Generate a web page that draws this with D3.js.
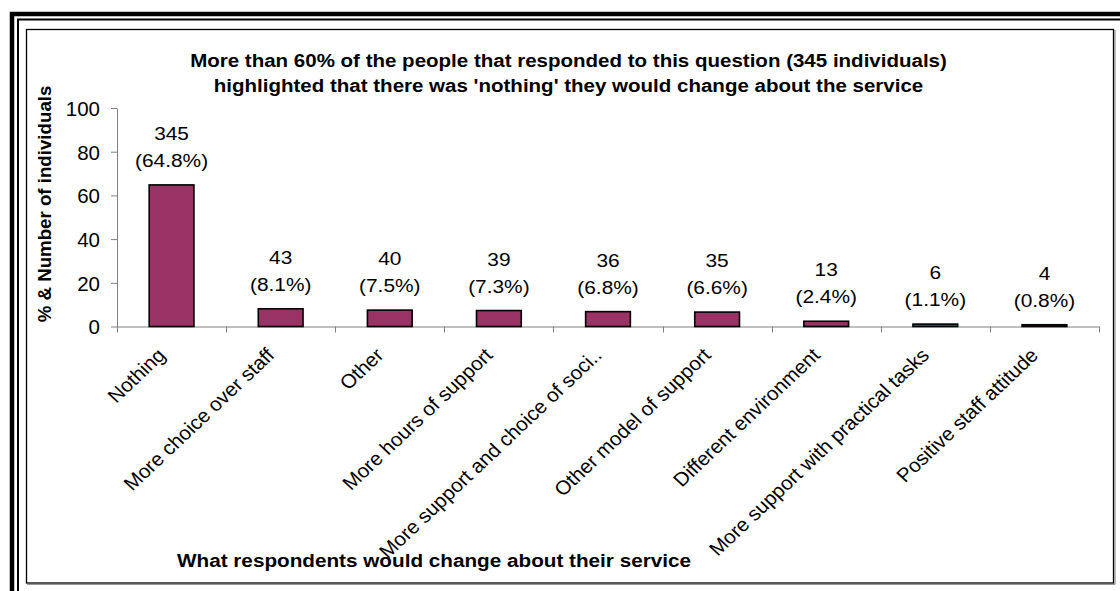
<!DOCTYPE html>
<html>
<head>
<meta charset="utf-8">
<script src="https://cdn.jsdelivr.net/npm/d3@7"></script>
<style>
  html, body { margin: 0; padding: 0; background: #fff; }
  svg { display: block; font-family: "Liberation Sans", Arial, sans-serif; }
</style>
</head>
<body>
<svg id="chart" width="1120" height="591"></svg>
<script>
// What respondents would change about their service
const categories = [
  "Nothing",
  "More choice over staff",
  "Other",
  "More hours of support",
  "More support and choice of soci..",
  "Other model of support",
  "Different environment",
  "More support with practical tasks",
  "Positive staff attitude"
];
const percents = [64.8, 8.1, 7.5, 7.3, 6.8, 6.6, 2.4, 1.1, 0.8];
const counts = [345, 43, 40, 39, 36, 35, 13, 6, 4];
const yTicks = [0, 20, 40, 60, 80, 100];

const titleLines = [
  "More than 60% of the people that responded to this question (345 individuals)",
  "highlighted that there was 'nothing' they would change about the service"
];
const yTitle = "% & Number of individuals";
const xTitle = "What respondents would change about their service";

const rows = categories.map((c, i) => ({ cat: c, pct: percents[i], n: counts[i] }));

// the chart's lettering is drawn slightly wide
const WIDE = 1.06;

const svg = d3.select("#chart");

// frame: heavy double rule on the left/top, thin box around the chart
svg.append("rect").attr("x", 12).attr("y", 14).attr("width", 1300).attr("height", 800)
  .attr("fill", "none").attr("stroke", "#000").attr("stroke-width", 4.5);
svg.append("rect").attr("x", 18).attr("y", 19.5).attr("width", 1300).attr("height", 800)
  .attr("fill", "none").attr("stroke", "#000").attr("stroke-width", 2);
svg.append("rect").attr("x", 26.5).attr("y", 29.5).attr("width", 1087).attr("height", 553.5)
  .attr("fill", "#fff").attr("stroke", "#000").attr("stroke-width", 1.3);
svg.append("line").attr("x1", 1115).attr("x2", 1115).attr("y1", 30).attr("y2", 584.5)
  .attr("stroke", "#777").attr("stroke-width", 1);
svg.append("line").attr("x1", 27).attr("x2", 1115).attr("y1", 584.5).attr("y2", 584.5)
  .attr("stroke", "#999").attr("stroke-width", 1);

const x = d3.scaleBand()
  .domain(categories)
  .range([117, 1099])
  .paddingInner(0.59)
  .paddingOuter(0.295);

const y = d3.scaleLinear().domain([0, 100]).range([326.5, 108]);
const cx = c => x(c) + x.bandwidth() / 2;

// y axis
const yAxis = svg.append("g")
  .attr("transform", "translate(117,0)")
  .call(d3.axisLeft(y).tickValues(yTicks).tickSize(6).tickPadding(11).tickSizeOuter(0));
yAxis.select(".domain").attr("stroke", "#808080");
yAxis.selectAll(".tick line").attr("stroke", "#808080");
yAxis.selectAll(".tick text")
  .attr("font-size", 20.5).attr("fill", "#000")
  .attr("font-family", "Liberation Sans, Arial, sans-serif")
  .attr("dy", "0.36em");

// x axis: baseline with tick marks between categories
const step = x.step();
const edges = categories.map(c => x(c) - step * x.paddingInner() / 2);
edges.push(x.range()[1]);
svg.append("line")
  .attr("x1", x.range()[0]).attr("x2", x.range()[1])
  .attr("y1", y(0) + 0.5).attr("y2", y(0) + 0.5)
  .attr("stroke", "#808080").attr("stroke-width", 1);
svg.append("g").selectAll("line").data(edges).join("line")
  .attr("x1", d => Math.round(d) + 0.5).attr("x2", d => Math.round(d) + 0.5)
  .attr("y1", y(0)).attr("y2", y(0) + 6)
  .attr("stroke", "#808080").attr("stroke-width", 1);

// bars
svg.append("g").selectAll("rect").data(rows).join("rect")
  .attr("x", d => x(d.cat))
  .attr("y", d => y(d.pct))
  .attr("width", x.bandwidth())
  .attr("height", d => y(0) - y(d.pct))
  .attr("fill", "#993366")
  .attr("stroke", "#000")
  .attr("stroke-width", 1.6);

// value labels: count over percentage
const lbl = svg.append("g").selectAll("g").data(rows).join("g")
  .attr("transform", d => `translate(${cx(d.cat)},${y(d.pct)}) scale(1.16,1)`);
lbl.append("text")
  .attr("text-anchor", "middle").attr("font-size", 18).attr("fill", "#000")
  .attr("y", -45)
  .text(d => d.n);
lbl.append("text")
  .attr("text-anchor", "middle").attr("font-size", 18).attr("fill", "#000")
  .attr("y", -18)
  .text(d => `(${d.pct.toFixed(1)}%)`);

// category labels, slanted
svg.append("g").selectAll("text").data(categories).join("text")
  .attr("transform", d => `translate(${cx(d) - 5},${y(0) + 30}) scale(${WIDE},1) rotate(-45)`)
  .attr("text-anchor", "end")
  .attr("font-size", 19.5)
  .attr("fill", "#000")
  .text(d => d);

// titles
svg.append("g").selectAll("text").data(titleLines).join("text")
  .attr("transform", (d, i) => `translate(568.5,${67 + i * 25}) scale(1.08,1)`)
  .attr("text-anchor", "middle")
  .attr("font-size", 19)
  .attr("font-weight", "bold")
  .text(d => d);

svg.append("text")
  .attr("transform", "translate(51,204) rotate(-90)")
  .attr("text-anchor", "middle")
  .attr("font-size", 18.7)
  .attr("font-weight", "bold")
  .text(yTitle);

svg.append("text")
  .attr("transform", "translate(434,567) scale(1.09,1)")
  .attr("text-anchor", "middle")
  .attr("font-size", 19)
  .attr("font-weight", "bold")
  .text(xTitle);
</script>
</body>
</html>
